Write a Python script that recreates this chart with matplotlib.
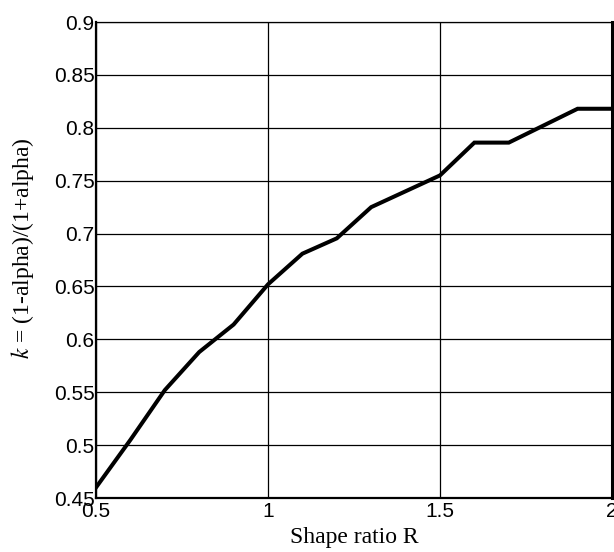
import matplotlib
matplotlib.use("Agg")
import matplotlib.pyplot as plt

R = [0.5, 0.6, 0.7, 0.8, 0.9, 1.0, 1.1, 1.2, 1.3, 1.4, 1.5, 1.6, 1.7, 1.8, 1.9, 2.0]
k = [0.460, 0.505, 0.552, 0.588, 0.614, 0.652, 0.681, 0.6955, 0.725, 0.740, 0.755,
     0.786, 0.786, 0.802, 0.818, 0.818]
xticks = [0.5, 1, 1.5, 2]
xticklabels = ["0.5", "1", "1.5", "2"]
yticks = [0.45, 0.5, 0.55, 0.6, 0.65, 0.7, 0.75, 0.8, 0.85, 0.9]
yticklabels = ["0.45", "0.5", "0.55", "0.6", "0.65", "0.7", "0.75", "0.8", "0.85", "0.9"]

plt.rcParams['mathtext.fontset'] = 'stix'

fig = plt.figure(figsize=(6.14, 5.52), dpi=100)
ax = fig.add_axes([0.1564, 0.0978, 0.8403, 0.8623])
ax.plot(R, k, color='black', lw=2.9, solid_joinstyle='miter', zorder=3)
ax.set_xlim(0.5, 2)
ax.set_ylim(0.45, 0.9)
ax.set_xticks(xticks)
ax.set_xticklabels(xticklabels)
ax.set_yticks(yticks)
ax.set_yticklabels(yticklabels)
ax.grid(True, color='black', lw=0.9)
ax.tick_params(axis='y', length=0, pad=1, labelsize=15)
ax.tick_params(axis='x', length=0, pad=3, labelsize=15)
for lab in ax.get_xticklabels() + ax.get_yticklabels():
    lab.set_family('Liberation Sans')
for s in ['left', 'bottom']:
    ax.spines[s].set_linewidth(1.6)
ax.spines['right'].set_linewidth(2.2)
ax.spines['top'].set_linewidth(0.9)
ax.set_xlabel('Shape ratio R', family='Liberation Serif', fontsize=17)
ax.set_ylabel('$k$ = (1-alpha)/(1+alpha)', family='Liberation Serif', fontsize=17)
ax.xaxis.set_label_coords(0.5, -0.082)
ax.yaxis.set_label_coords(-0.143, 0.525)
ax.xaxis.label.set_va('center')
ax.yaxis.label.set_va('center')
fig.savefig('out.png', dpi=100)
